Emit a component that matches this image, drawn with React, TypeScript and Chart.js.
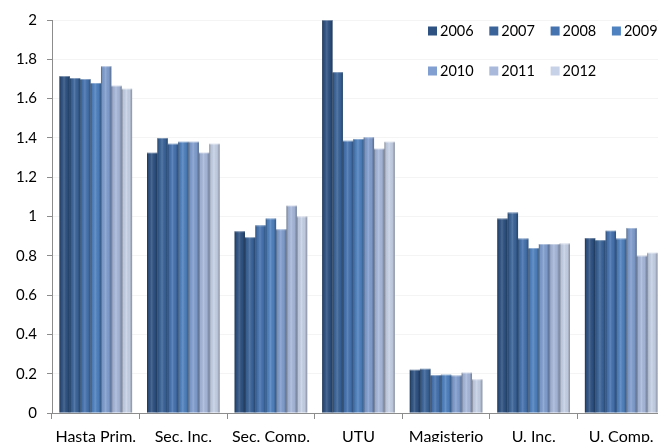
import React, { useEffect, useRef } from "react";
import { Chart, registerables } from "chart.js";

Chart.register(...registerables);

const categories = ["Hasta Prim.", "Sec. Inc.", "Sec. Comp.", "UTU", "Magisterio", "U. Inc.", "U. Comp."];
const years = ["2006", "2007", "2008", "2009", "2010", "2011", "2012"];

const v2006 = [1.715, 1.325, 0.925, 2.0, 0.22, 0.99, 0.89];
const v2007 = [1.705, 1.4, 0.895, 1.735, 0.225, 1.02, 0.88];
const v2008 = [1.7, 1.37, 0.955, 1.385, 0.193, 0.888, 0.928];
const v2009 = [1.68, 1.38, 0.99, 1.395, 0.195, 0.84, 0.888];
const v2010 = [1.765, 1.38, 0.935, 1.403, 0.191, 0.86, 0.942];
const v2011 = [1.665, 1.325, 1.055, 1.345, 0.205, 0.86, 0.8];
const v2012 = [1.65, 1.37, 1.0, 1.38, 0.171, 0.862, 0.815];

const seriesValues = [v2006, v2007, v2008, v2009, v2010, v2011, v2012];
const colors = ["#2E5282", "#3A6499", "#4573B0", "#4F82C0", "#819FD0", "#A8B9DC", "#C7D2E8"];

const yMin = 0;
const yMax = 2;
const yStep = 0.2;

const FONT = "Lato, 'Open Sans', sans-serif";

const shadePlugin = {
  id: "shade",
  afterDatasetsDraw(chart: any) {
    const ctx = chart.ctx;
    ctx.save();
    chart.data.datasets.forEach((_: any, di: number) => {
      const meta = chart.getDatasetMeta(di);
      meta.data.forEach((bar: any) => {
        const w = bar.width;
        const left = bar.x - w / 2;
        const top = Math.min(bar.y, bar.base);
        const h = Math.abs(bar.base - bar.y);
        const g = ctx.createLinearGradient(left, 0, left + w, 0);
        g.addColorStop(0, "rgba(0,0,0,0.38)");
        g.addColorStop(0.15, "rgba(0,0,0,0.06)");
        g.addColorStop(0.45, "rgba(255,255,255,0.14)");
        g.addColorStop(0.75, "rgba(0,0,0,0.04)");
        g.addColorStop(1, "rgba(0,0,0,0.32)");
        ctx.fillStyle = g;
        ctx.fillRect(left, top, w, h);
        ctx.fillStyle = "rgba(255,255,255,0.35)";
        ctx.fillRect(left, top, w, 1);
      });
    });
    ctx.restore();
  },
};

const legendPlugin = {
  id: "insideLegend",
  afterDraw(chart: any) {
    const ctx = chart.ctx;
    const area = chart.chartArea;
    const startX = area.left + 376;
    const startY = area.top + 11;
    const colStep = 61.3;
    const rowStep = 40;
    const perRow = 4;
    ctx.save();
    ctx.font = `14.5px ${FONT}`;
    ctx.textBaseline = "middle";
    ctx.textAlign = "left";
    chart.data.datasets.forEach((ds: any, i: number) => {
      const col = i % perRow;
      const row = Math.floor(i / perRow);
      const x = startX + col * colStep;
      const y = startY + row * rowStep;
      ctx.fillStyle = ds.backgroundColor;
      ctx.fillRect(x, y - 4.5, 9, 9);
      ctx.fillStyle = "#000";
      ctx.fillText(ds.label, x + 12, y + 0.5);
    });
    ctx.restore();
  },
};

export default function App() {
  const ref = useRef<HTMLCanvasElement | null>(null);

  useEffect(() => {
    if (!ref.current) return;
    const chart = new Chart(ref.current, {
      type: "bar",
      data: {
        labels: categories,
        datasets: years.map((y, i) => ({
          label: y,
          data: seriesValues[i],
          backgroundColor: colors[i],
          borderWidth: 0,
          categoryPercentage: 0.83,
          barPercentage: 1,
        })),
      },
      options: {
        responsive: false,
        animation: false,
        devicePixelRatio: 1,
        layout: { padding: { top: 20, left: 0, right: 25, bottom: 0 } },
        plugins: { legend: { display: false }, tooltip: { enabled: false } },
        scales: {
          x: {
            grid: {
              offset: true,
              drawOnChartArea: false,
              tickColor: "#8c8c8c",
              tickLength: 6,
            },
            border: { color: "#8c8c8c" },
            ticks: {
              color: "#000",
              font: { family: FONT, size: 16 },
              maxRotation: 0,
              autoSkip: false,
              padding: 8,
            },
            afterFit: (scale: any) => {
              scale.height = 57;
            },
          },
          y: {
            min: yMin,
            max: yMax,
            grid: {
              color: "rgba(0,0,0,0.045)",
              tickColor: "#8c8c8c",
              tickLength: 5,
              tickBorderDash: [],
            },
            border: { color: "#8c8c8c" },
            ticks: {
              stepSize: yStep,
              color: "#000",
              font: { family: FONT, size: 15 },
              padding: 10,
              callback: (v: any) => String(+Number(v).toFixed(1)),
            },
            afterFit: (scale: any) => {
              scale.width = 52;
            },
          },
        },
      },
      plugins: [shadePlugin, legendPlugin],
    });
    return () => chart.destroy();
  }, []);

  return (
    <div
      style={{
        position: "fixed",
        left: 0,
        top: 0,
        width: 658,
        height: 442,
        overflow: "hidden",
        background: "#fff",
      }}
    >
      <canvas ref={ref} width={690} height={470} style={{ display: "block" }} />
    </div>
  );
}
